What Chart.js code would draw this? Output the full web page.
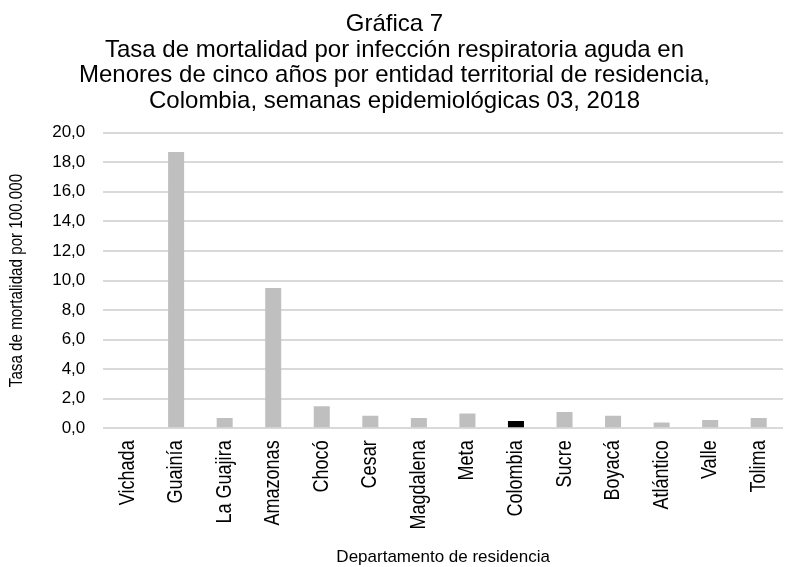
<!DOCTYPE html>
<html>
<head>
<meta charset="utf-8">
<script src="https://cdn.jsdelivr.net/npm/chart.js@4"></script>
<style>
    html, body { margin: 0; padding: 0; background: #fff; }
    #wrap { width: 785px; height: 567px; }
</style>
</head>
<body>
<div id="wrap"><canvas id="mortChart" width="785" height="567"></canvas></div>
<script>
// Tasa de mortalidad por IRA en menores de cinco anos, semana 03 de 2018
const departamentos = ['Vichada', 'Guainía', 'La Guajira', 'Amazonas', 'Chocó', 'Cesar',
    'Magdalena', 'Meta', 'Colombia', 'Sucre', 'Boyacá', 'Atlántico', 'Valle', 'Tolima'];
const tasas = [0, 18.7, 0.7, 9.5, 1.5, 0.85, 0.7, 1.0, 0.5, 1.1, 0.85, 0.4, 0.56, 0.7];
const yTicks = [0, 2, 4, 6, 8, 10, 12, 14, 16, 18, 20];

const tituloLineas = [
    'Gráfica 7',
    'Tasa de mortalidad por infección respiratoria aguda en',
    'Menores de cinco años por entidad territorial de residencia,',
    'Colombia, semanas epidemiológicas 03, 2018'
];

// no Arial Narrow here, so squeeze the text horizontally when the font asks for it
const NARROW = 0.82;
const proto = CanvasRenderingContext2D.prototype;
const origFill = proto.fillText;
const origMeasure = proto.measureText;
function squeeze(c) { return /Narrow/.test(c.font) ? NARROW : 1; }
proto.fillText = function(text, x, y, maxWidth) {
    const s = squeeze(this);
    if (s === 1) return origFill.call(this, text, x, y);
    this.save();
    this.translate(x, y);
    this.scale(s, 1);
    origFill.call(this, text, 0, 0);
    this.restore();
};
proto.measureText = function(text) {
    const m = origMeasure.call(this, text);
    const s = squeeze(this);
    if (s === 1) return m;
    return {
        width: m.width * s,
        actualBoundingBoxLeft: m.actualBoundingBoxLeft * s,
        actualBoundingBoxRight: m.actualBoundingBoxRight * s,
        actualBoundingBoxAscent: m.actualBoundingBoxAscent,
        actualBoundingBoxDescent: m.actualBoundingBoxDescent
    };
};

const narrow = "'Arial Narrow', Arial, 'Liberation Sans', sans-serif";
const regular = "Arial, 'Liberation Sans', sans-serif";

const barColors = departamentos.map(d => d === 'Colombia' ? '#000000' : '#bfbfbf');

const ctx = document.getElementById('mortChart');
const mortChart = new Chart(ctx, {
    type: 'bar',
    data: {
        labels: departamentos,
        datasets: [{
            data: tasas,
            backgroundColor: barColors,
            borderWidth: 0,
            barPercentage: 0.33,
            categoryPercentage: 1.0
        }]
    },
    options: {
        responsive: false,
        animation: false,
        devicePixelRatio: 1,
        layout: {
            padding: { left: 6, right: 2, top: 2, bottom: -1 }
        },
        plugins: {
            legend: { display: false },
            tooltip: { enabled: false },
            title: {
                display: true,
                text: tituloLineas,
                color: '#000',
                font: { family: regular, size: 24, weight: 'normal', lineHeight: 1.08 },
                padding: { top: 9, bottom: 18 }
            }
        },
        scales: {
            x: {
                afterFit: axis => {
                    axis.paddingLeft = 0;
                    axis.paddingRight = 0;
                },
                grid: { display: false, drawTicks: false },
                border: { display: false },
                ticks: {
                    color: '#000',
                    autoSkip: false,
                    maxRotation: 90,
                    minRotation: 90,
                    padding: 12,
                    font: { family: narrow, size: 22 }
                },
                title: {
                    display: true,
                    text: 'Departamento de residencia',
                    color: '#000',
                    font: { family: regular, size: 17 },
                    padding: { top: 6, bottom: 0 }
                }
            },
            y: {
                min: 0,
                max: 20,
                afterBuildTicks: axis => {
                    axis.ticks = yTicks.map(v => ({ value: v }));
                },
                grid: { color: '#d9d9d9', lineWidth: 2, drawTicks: false },
                border: { display: false },
                ticks: {
                    color: '#000',
                    padding: 18,
                    font: { family: regular, size: 17 },
                    callback: v => v.toFixed(1).replace('.', ',')
                },
                title: {
                    display: true,
                    text: 'Tasa de mortalidad por 100.000',
                    color: '#000',
                    font: { family: narrow, size: 18.5 },
                    padding: { top: 0, bottom: 6 }
                }
            }
        }
    }
});
</script>
</body>
</html>
